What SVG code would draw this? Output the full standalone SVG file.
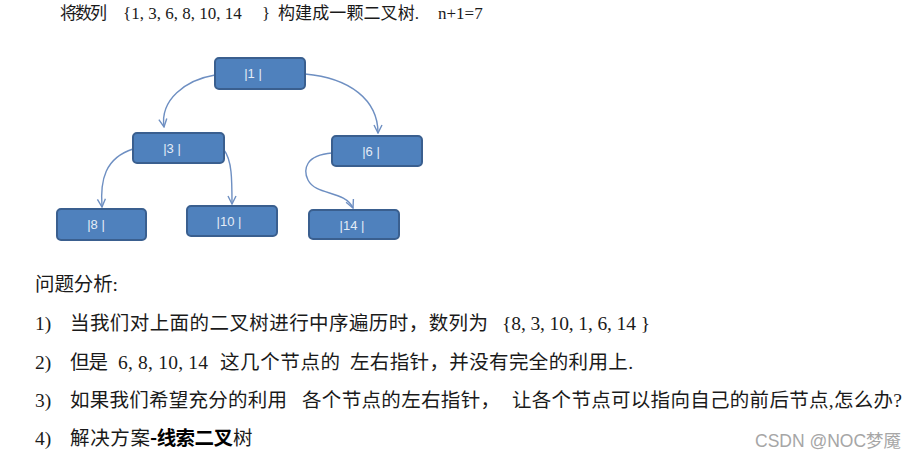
<svg xmlns="http://www.w3.org/2000/svg" width="920" height="461" viewBox="0 0 920 461">
<defs>
<style>
.t{font-family:"Liberation Serif","Noto Sans CJK SC",serif;fill:#1a1a1a}
.h{font-size:17px}
.b{font-size:19.5px}
.box{fill:#4f81bd;stroke:#3a5f8f;stroke-width:2}
.lbl{font-family:"Liberation Sans","DejaVu Sans",sans-serif;font-size:13px;fill:#e4ecf7;text-anchor:middle}
.edge{fill:none;stroke:#6e8fc2;stroke-width:1.4}
.bold{font-family:"Noto Sans CJK SC",sans-serif;font-weight:bold;fill:#000}
.wm{font-family:"Liberation Sans","Noto Sans CJK SC",sans-serif;font-size:17.5px;fill:#a6a6a6}
</style>
<marker id="arr" viewBox="0 0 10 10" refX="9" refY="5" markerWidth="10" markerHeight="10" orient="auto" markerUnits="userSpaceOnUse">
<path d="M1,1 L9,5 L1,9" fill="none" stroke="#6e8fc2" stroke-width="1.4"/>
</marker>
</defs>
<rect width="920" height="461" fill="#fff"/>
<g id="title" class="t h">
<text x="60" y="19" textLength="47">将数列</text>
<text x="123" y="19">{1, 3, 6, 8, 10, 14</text>
<text x="262" y="19">}</text>
<text x="278" y="19" textLength="141">构建成一颗二叉树.</text>
<text x="438" y="19">n+1=7</text>
</g>
<g id="connectors">
<path class="edge" d="M215,75 C185,80 160,100 164,127" marker-end="url(#arr)"/>
<path class="edge" d="M305,74 C350,78 378,100 378,133" marker-end="url(#arr)"/>
<path class="edge" d="M133,149 C105,158 100,180 102,207" marker-end="url(#arr)"/>
<path class="edge" d="M224,150 C232,160 232,180 232,204" marker-end="url(#arr)"/>
<path class="edge" d="M332,153 C305,155 303,170 308,180 C316,196 345,190 353,208" marker-end="url(#arr)"/>
</g>
<g id="n1"><rect class="box" x="215" y="58" width="90" height="31" rx="4"/><text class="lbl" x="253" y="78">|1 |</text></g>
<g id="n3"><rect class="box" x="133" y="133" width="91" height="30" rx="4"/><text class="lbl" x="172" y="153">|3 |</text></g>
<g id="n6"><rect class="box" x="332" y="136" width="90" height="30" rx="4"/><text class="lbl" x="371" y="156">|6 |</text></g>
<g id="n8"><rect class="box" x="57" y="209" width="89" height="31" rx="4"/><text class="lbl" x="96" y="229">|8 |</text></g>
<g id="n10"><rect class="box" x="187" y="206" width="90" height="30" rx="4"/><text class="lbl" x="229" y="226">|10 |</text></g>
<g id="n14"><rect class="box" x="309" y="210" width="90" height="29" rx="4"/><text class="lbl" x="352" y="230">|14 |</text></g>
<g id="body" class="t b">
<text x="35" y="291" textLength="83">问题分析:</text>
<text x="35" y="330">1)</text>
<text x="70" y="330" textLength="418">当我们对上面的二叉树进行中序遍历时，数列为</text>
<text x="502" y="330" textLength="148">{8, 3, 10, 1, 6, 14 }</text>
<text x="35" y="369">2)</text>
<text x="70" y="369" textLength="38">但是</text>
<text x="118" y="369" textLength="90">6, 8, 10, 14</text>
<text x="220" y="369" textLength="120">这几个节点的</text>
<text x="350" y="369" textLength="283">左右指针，并没有完全的利用上.</text>
<text x="35" y="407">3)</text>
<text x="70" y="407" textLength="217">如果我们希望充分的利用</text>
<text x="302" y="407" textLength="198">各个节点的左右指针，</text>
<text x="512" y="407" textLength="390">让各个节点可以指向自己的前后节点,怎么办?</text>
<text x="35" y="445">4)</text>
<text x="70" y="445" textLength="80">解决方案</text>
<text class="bold" x="150" y="445" textLength="83">-线索二叉</text>
<text x="233" y="445" textLength="20">树</text>
</g>
<text class="wm" x="755" y="447">CSDN @NOC梦魇</text>
</svg>
